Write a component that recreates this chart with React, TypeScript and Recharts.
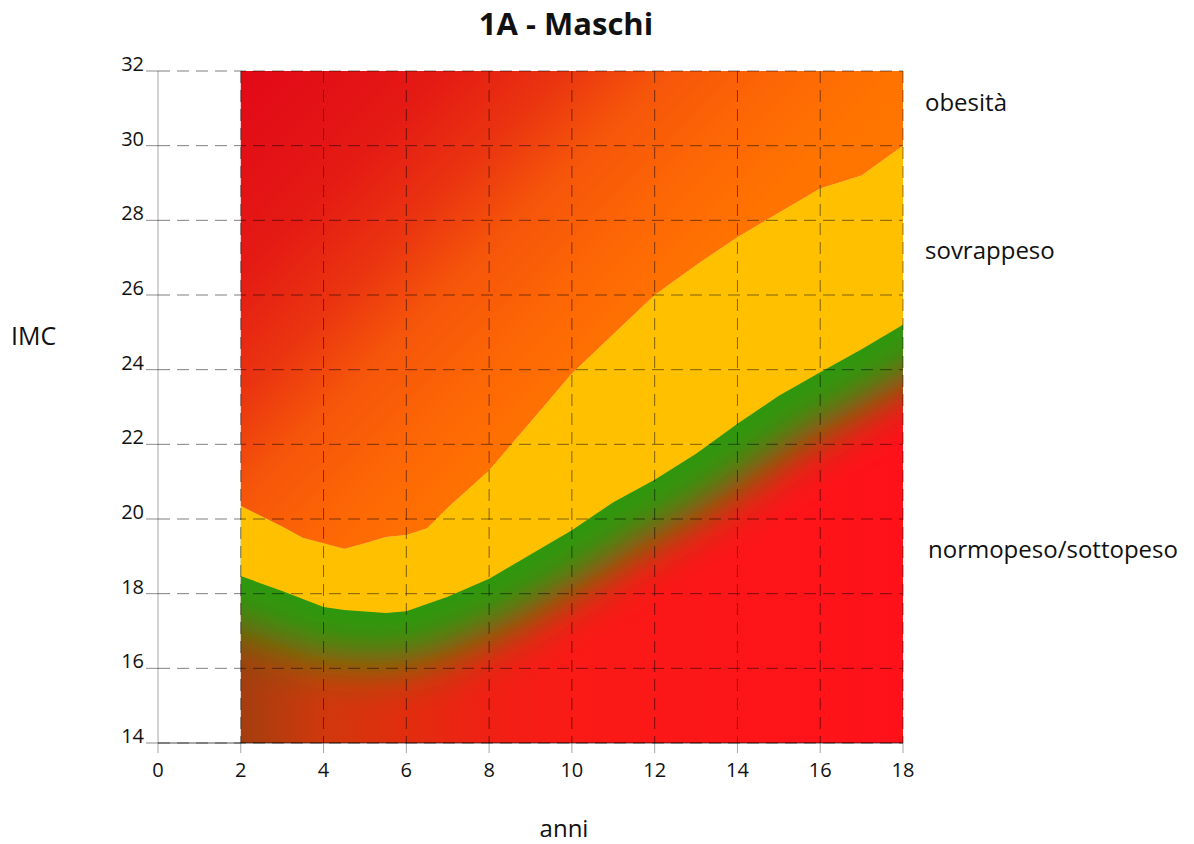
import { ComposedChart, Area, XAxis, YAxis, CartesianGrid } from "recharts";

// età (anni) e soglie IMC
const ages = [2, 3, 3.5, 4, 4.5, 5, 5.5, 6, 6.5, 7, 8, 9, 10, 11, 12, 13, 14, 15, 16, 17, 18];
const obesita = [20.35, 19.8, 19.5, 19.35, 19.2, 19.35, 19.52, 19.57, 19.75, 20.3, 21.3, 22.6, 23.9, 24.95, 26.0, 26.8, 27.55, 28.2, 28.85, 29.2, 30.0];
const sovrappeso = [18.47, 18.07, 17.86, 17.64, 17.56, 17.52, 17.48, 17.53, 17.72, 17.92, 18.4, 19.05, 19.7, 20.45, 21.05, 21.75, 22.55, 23.3, 23.93, 24.55, 25.2];

const xTicks = [0, 2, 4, 6, 8, 10, 12, 14, 16, 18];
const yTicks = [14, 16, 18, 20, 22, 24, 26, 28, 30, 32];
const yMin = 14;
const yMax = 32;

const data = ages.map((age, i) => ({
  age,
  obesita: obesita[i],
  sovrappeso: sovrappeso[i],
  fascia: [sovrappeso[i], obesita[i]],
}));

const FONT = '"Open Sans", "Noto Sans", sans-serif';

const XTick = (p: any) => (
  <text x={p.x} y={p.y} dy="0.72em" textAnchor="middle" fontSize={20} fill="#111" fontFamily={FONT}>
    {p.payload.value}
  </text>
);

const YTick = (p: any) => (
  <text x={p.x} y={p.y} textAnchor="end" fontSize={20} fill="#111" fontFamily={FONT}>
    {p.payload.value}
  </text>
);

export default function App() {
  return (
    <div style={{ position: "absolute", left: 0, top: 0, width: 1194, height: 844, background: "#fff", fontFamily: FONT }}>
      <ComposedChart
        width={1194}
        height={844}
        data={data}
        margin={{ top: 71, right: 291, bottom: 71, left: 98 }}
      >
        <defs>
          <linearGradient id="upGrad" x1="0" y1="0" x2="1" y2="0.72">
            <stop offset="0" stopColor="#e20817" />
            <stop offset="0.2" stopColor="#e41a14" />
            <stop offset="0.32" stopColor="#ea3410" />
            <stop offset="0.42" stopColor="#f5550a" />
            <stop offset="0.54" stopColor="#fd6605" />
            <stop offset="0.66" stopColor="#ff7400" />
            <stop offset="1" stopColor="#ff7c00" />
          </linearGradient>
          <linearGradient id="lowGrad" x1="0" y1="0" x2="1" y2="0">
            <stop offset="0" stopColor="#a43e0f" />
            <stop offset="0.125" stopColor="#d0380c" />
            <stop offset="0.25" stopColor="#e22d0e" />
            <stop offset="0.375" stopColor="#f02014" />
            <stop offset="0.5" stopColor="#fa1a16" />
            <stop offset="1" stopColor="#ff111a" />
          </linearGradient>
          <filter id="greenBlur" x="-0.2" y="-1" width="1.4" height="3">
            <feGaussianBlur stdDeviation="24" />
          </filter>
          <clipPath id="bbClip" clipPathUnits="objectBoundingBox">
            <rect x="0" y="-2" width="1" height="5" />
          </clipPath>
        </defs>

        <XAxis
          type="number"
          dataKey="age"
          domain={[0, 18]}
          ticks={xTicks}
          interval={0}
          height={30}
          tickSize={10}
          tickMargin={10}
          axisLine={{ stroke: "#000", strokeOpacity: 0.45, strokeWidth: 1.5 }}
          tickLine={{ stroke: "#000", strokeOpacity: 0.35 }}
          tick={XTick}
        />
        <YAxis
          type="number"
          domain={[yMin, yMax]}
          ticks={yTicks}
          interval={0}
          width={60}
          tickSize={12}
          tickMargin={2}
          axisLine={{ stroke: "#000", strokeOpacity: 0.35 }}
          tickLine={{ stroke: "#000", strokeOpacity: 0.45 }}
          tick={YTick}
        />

        <Area
          type="linear"
          dataKey="sovrappeso"
          baseValue={yMin}
          fill="url(#lowGrad)"
          fillOpacity={1}
          stroke="none"
          dot={false}
          activeDot={false}
          isAnimationActive={false}
        />
        <Area
          type="linear"
          dataKey="sovrappeso"
          fill="none"
          stroke="#2a9a08"
          strokeWidth={100}
          strokeLinecap="square"
          filter="url(#greenBlur)"
          clipPath="url(#bbClip)"
          dot={false}
          activeDot={false}
          isAnimationActive={false}
        />
        <Area
          type="linear"
          dataKey="fascia"
          fill="#ffc000"
          fillOpacity={1}
          stroke="none"
          dot={false}
          activeDot={false}
          isAnimationActive={false}
        />
        <Area
          type="linear"
          dataKey="obesita"
          baseValue={yMax}
          fill="url(#upGrad)"
          fillOpacity={1}
          stroke="none"
          dot={false}
          activeDot={false}
          isAnimationActive={false}
        />

        <CartesianGrid
          stroke="#000"
          strokeOpacity={0.5}
          strokeDasharray="12 7"
          verticalValues={xTicks.filter((t) => t > 0)}
          zIndex={1000}
        />
      </ComposedChart>

      <svg
        width={1194}
        height={844}
        style={{ position: "absolute", left: 0, top: 0, pointerEvents: "none" }}
        fontFamily={FONT}
        fill="#111"
      >
        <text x={566} y={35} textAnchor="middle" fontSize={31} fontWeight="bold">
          1A - Maschi
        </text>
        <text x={11} y={345} fontSize={25}>IMC</text>
        <text x={564} y={837} textAnchor="middle" fontSize={24}>anni</text>
        <text x={925} y={111} fontSize={24}>obesità</text>
        <text x={925} y={259} fontSize={24}>sovrappeso</text>
        <text x={928} y={558} fontSize={24}>normopeso/sottopeso</text>
      </svg>
    </div>
  );
}
